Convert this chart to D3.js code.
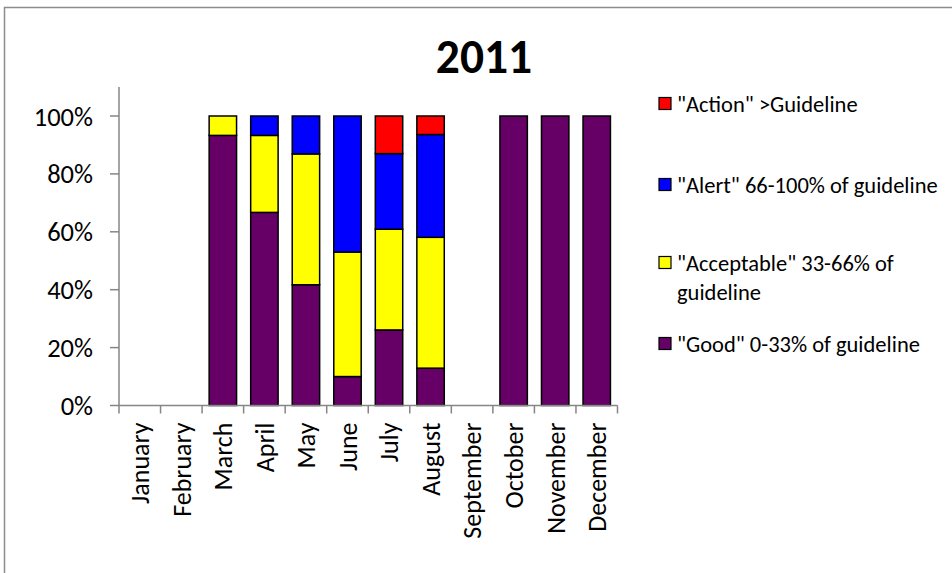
<!DOCTYPE html>
<html>
<head>
<meta charset="utf-8">
<script src="https://cdn.jsdelivr.net/npm/d3@7"></script>
<style>
  html, body { margin: 0; padding: 0; background: #fff; }
  svg { display: block; }
  text { font-family: Carlito, Calibri, Lato, sans-serif; fill: #000; }
</style>
</head>
<body>
<svg id="chart" width="952" height="573"></svg>
<script>
// Monthly share of samples in each guideline band, 2011
const months = ["January", "February", "March", "April", "May", "June",
                "July", "August", "September", "October", "November", "December"];
const good       = [0, 0, 93.3, 66.7, 41.7, 10.0, 26.1, 12.9, 0, 100, 100, 100];
const acceptable = [0, 0,  6.7, 26.6, 45.2, 43.0, 34.8, 45.2, 0,   0,   0,   0];
const alert      = [0, 0,  0,    6.7, 13.1, 47.0, 26.1, 35.5, 0,   0,   0,   0];
const action     = [0, 0,  0,    0,    0,    0,   13.0,  6.4, 0,   0,   0,   0];
const yTicks = [0, 20, 40, 60, 80, 100];

const seriesNames = ["good", "acceptable", "alert", "action"];
const seriesColors = { good: "#660066", acceptable: "#FFFF00", alert: "#0000FF", action: "#FF0000" };
const legendItems = [
  { key: "action", lines: ['"Action" >Guideline'] },
  { key: "alert", lines: ['"Alert" 66-100% of guideline'] },
  { key: "acceptable", lines: ['"Acceptable" 33-66% of', 'guideline'] },
  { key: "good", lines: ['"Good" 0-33% of guideline'] }
];

const rows = months.map((m, i) => ({
  month: m, good: good[i], acceptable: acceptable[i], alert: alert[i], action: action[i]
}));

const svg = d3.select("#chart");

// chart frame
svg.append("rect")
  .attr("x", 4.5).attr("y", 7.5).attr("width", 960).attr("height", 580)
  .attr("fill", "none").attr("stroke", "#8c8c8c").attr("stroke-width", 1.5);

const plot = { left: 119, right: 617.5, top: 116, bottom: 405.5 };

const x = d3.scaleBand().domain(months).range([plot.left, plot.right])
  .paddingInner(0.34).paddingOuter(0.17);
const y = d3.scaleLinear().domain([0, 100]).range([plot.bottom, plot.top]);

const stack = d3.stack().keys(seriesNames);
const stacked = stack(rows);

const axisColor = "#868686";

// stacked bars
svg.append("g").selectAll("g")
  .data(stacked).join("g")
  .attr("fill", d => seriesColors[d.key])
  .selectAll("rect")
  .data(d => d.filter(s => s[1] - s[0] > 0))
  .join("rect")
  .attr("x", d => x(d.data.month))
  .attr("width", x.bandwidth())
  .attr("y", d => y(d[1]))
  .attr("height", d => y(d[0]) - y(d[1]))
  .attr("stroke", "#000")
  .attr("stroke-width", 1.5);

// y axis
const yAxis = svg.append("g");
yAxis.append("line")
  .attr("x1", plot.left).attr("x2", plot.left)
  .attr("y1", y(0)).attr("y2", y(110))
  .attr("stroke", axisColor).attr("stroke-width", 1.5);
yAxis.selectAll("line.tick").data(yTicks).join("line")
  .attr("class", "tick")
  .attr("x1", plot.left - 9).attr("x2", plot.left)
  .attr("y1", d => y(d)).attr("y2", d => y(d))
  .attr("stroke", axisColor).attr("stroke-width", 1.5);
yAxis.selectAll("text").data(yTicks).join("text")
  .attr("x", 93).attr("y", d => y(d))
  .attr("dy", "0.36em")
  .attr("text-anchor", "end")
  .attr("font-size", 26.5)
  .text(d => d + "%");

// x axis
const xAxis = svg.append("g");
xAxis.append("line")
  .attr("x1", plot.left).attr("x2", plot.right)
  .attr("y1", plot.bottom).attr("y2", plot.bottom)
  .attr("stroke", axisColor).attr("stroke-width", 1.5);
const boundaries = d3.range(months.length + 1).map(i => plot.left + i * (plot.right - plot.left) / months.length);
xAxis.selectAll("line.tick").data(boundaries).join("line")
  .attr("class", "tick")
  .attr("x1", d => d).attr("x2", d => d)
  .attr("y1", plot.bottom).attr("y2", plot.bottom + 8)
  .attr("stroke", axisColor).attr("stroke-width", 1.5);
xAxis.selectAll("text").data(months).join("text")
  .attr("transform", d => `translate(${x(d) + x.bandwidth() / 2},${plot.bottom + 17}) rotate(-90)`)
  .attr("dy", "0.36em")
  .attr("text-anchor", "end")
  .attr("font-size", 26)
  .text(d => d);

// title
svg.append("text")
  .attr("x", 484).attr("y", 73)
  .attr("text-anchor", "middle")
  .attr("font-size", 47.5)
  .attr("font-weight", "bold")
  .text("2011");

// legend
const legendY = { action: 103.5, alert: 184.5, acceptable: 262.5, good: 343.5 };
const legend = svg.append("g");
legendItems.forEach(item => {
  const cy = legendY[item.key];
  legend.append("rect")
    .attr("x", 659).attr("y", cy - 6).attr("width", 12).attr("height", 12)
    .attr("fill", seriesColors[item.key])
    .attr("stroke", "#000").attr("stroke-width", 1.2);
  item.lines.forEach((line, li) => {
    legend.append("text")
      .attr("x", 677).attr("y", cy + li * 29)
      .attr("dy", "0.36em")
      .attr("font-size", 22.5)
      .text(line);
  });
});
</script>
</body>
</html>
